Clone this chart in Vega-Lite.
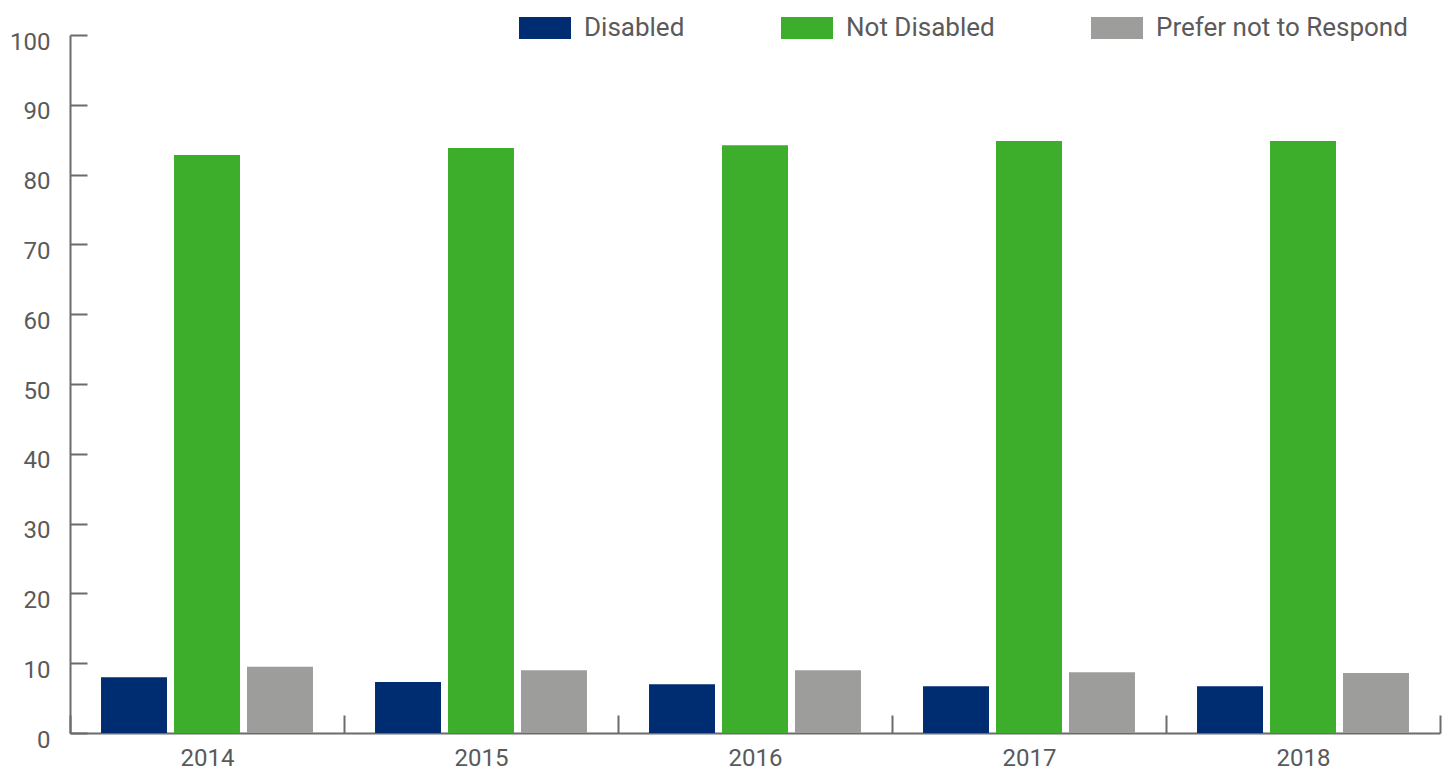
{
  "$schema": "https://vega.github.io/schema/vega-lite/v6.json",
  "autosize": "none",
  "width": 1370,
  "height": 698,
  "padding": {"left": 70, "top": 35, "right": 9, "bottom": 39},
  "background": "white",
  "config": {
    "view": {"stroke": null},
    "font": "Roboto",
    "axis": {"labelFont": "Roboto", "labelFontSize": 24, "labelColor": "#5a5a5a", "domainColor": "#6b6b6b", "tickColor": "#6b6b6b", "domainWidth": 2, "tickWidth": 2, "grid": false, "title": null},
    "legend": {"labelFont": "Roboto", "labelFontSize": 26, "labelColor": "#5a5a5a", "labelLimit": 500}
  },
  "data": {
    "values": [
      {"year": "2014", "group": "Disabled", "value": 8.0},
      {"year": "2014", "group": "Not Disabled", "value": 82.8},
      {"year": "2014", "group": "Prefer not to Respond", "value": 9.5},
      {"year": "2015", "group": "Disabled", "value": 7.3},
      {"year": "2015", "group": "Not Disabled", "value": 83.8},
      {"year": "2015", "group": "Prefer not to Respond", "value": 9.0},
      {"year": "2016", "group": "Disabled", "value": 7.0},
      {"year": "2016", "group": "Not Disabled", "value": 84.2},
      {"year": "2016", "group": "Prefer not to Respond", "value": 9.0},
      {"year": "2017", "group": "Disabled", "value": 6.7},
      {"year": "2017", "group": "Not Disabled", "value": 84.8},
      {"year": "2017", "group": "Prefer not to Respond", "value": 8.7},
      {"year": "2018", "group": "Disabled", "value": 6.7},
      {"year": "2018", "group": "Not Disabled", "value": 84.8},
      {"year": "2018", "group": "Prefer not to Respond", "value": 8.6}
    ]
  },
  "mark": {"type": "bar"},
  "encoding": {
    "x": {
      "field": "year", "type": "nominal",
      "scale": {"paddingInner": 0, "paddingOuter": 0},
      "axis": {"labelAngle": 0, "tickBand": "extent", "tickSize": -18, "labelPadding": 31, "labelBaseline": "top"}
    },
    "xOffset": {
      "field": "group", "type": "nominal",
      "scale": {"paddingInner": 0.096, "paddingOuter": 0.425}
    },
    "y": {
      "field": "value", "type": "quantitative",
      "scale": {"domain": [0, 100], "nice": false},
      "axis": {"values": [0,10,20,30,40,50,60,70,80,90,100], "tickSize": -17, "labelPadding": 37, "labelOffset": 7}
    },
    "color": {
      "field": "group", "type": "nominal",
      "scale": {"domain": ["Disabled", "Not Disabled", "Prefer not to Respond"], "range": ["#002D72", "#3DAE2B", "#9D9D9C"]},
      "legend": {
        "title": null, "orient": "none", "direction": "horizontal",
        "legendX": 449, "legendY": -33,
        "symbolType": "M-1,-0.42H1V0.42H-1Z", "symbolSize": 2704, "symbolStrokeWidth": 0, "symbolOpacity": 1,
        "columnPadding": 96, "labelOffset": 13
      }
    }
  }
}
